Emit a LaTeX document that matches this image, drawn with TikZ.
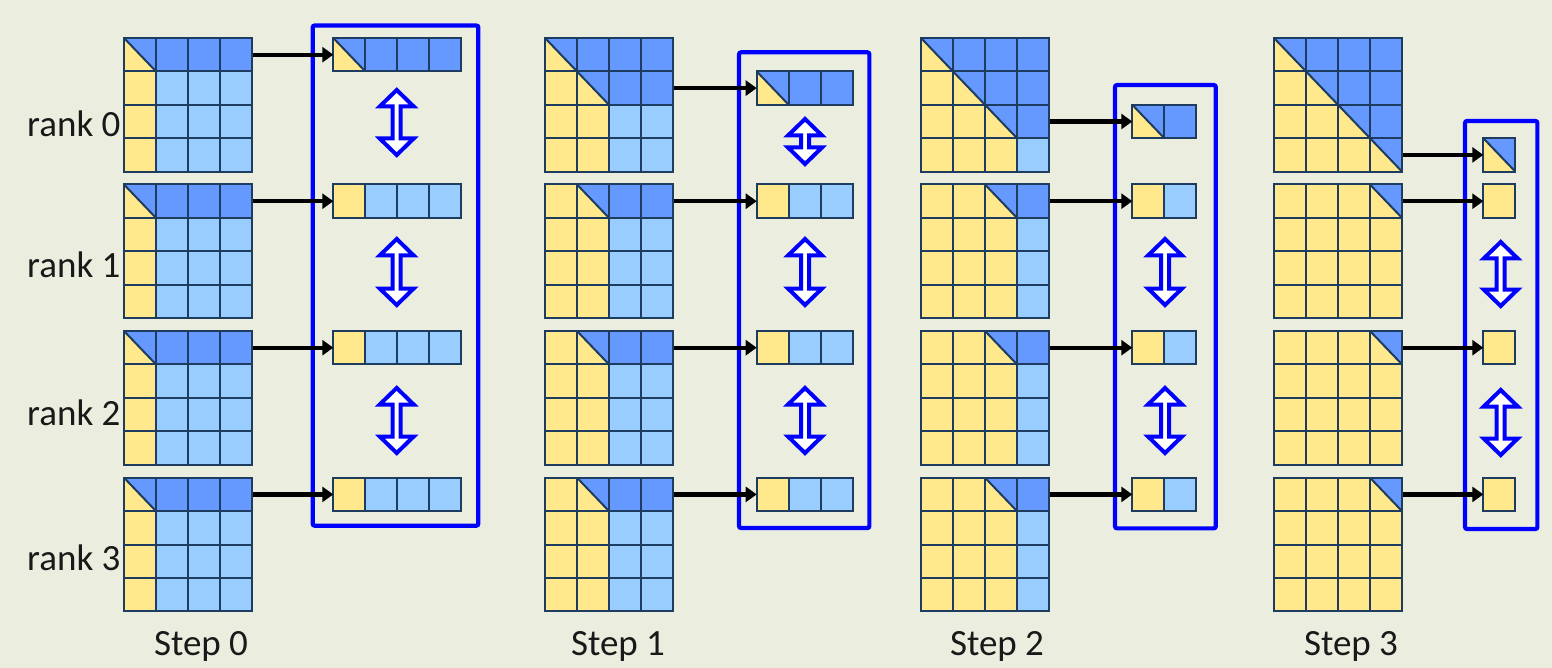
\documentclass[tikz,border=0pt]{standalone}
\usepackage{fontspec}
\setmainfont{Carlito}
\usetikzlibrary{arrows.meta}
\definecolor{bg}{RGB}{235,238,223}
\definecolor{cy}{RGB}{255,233,140}
\definecolor{cd}{RGB}{102,153,255}
\definecolor{cl}{RGB}{153,204,255}
\definecolor{gridc}{RGB}{30,60,95}
\definecolor{boxb}{RGB}{0,0,255}
\newcommand\cw{32}
\newcommand\ch{33.4}
% cell: x, y (top-left), type 0=yellow 1=dark 2=light 3=split
\newcommand\mycell[3]{%
  \ifcase#3\relax
    \fill[cy] ({#1},{#2}) rectangle ++(\cw,\ch);
  \or
    \fill[cd] ({#1},{#2}) rectangle ++(\cw,\ch);
  \or
    \fill[cl] ({#1},{#2}) rectangle ++(\cw,\ch);
  \or
    \fill[cy] ({#1},{#2}) -- ++(0,\ch) -- ++(\cw,0) -- cycle;
    \fill[cd] ({#1},{#2}) -- ++(\cw,0) -- ++(0,\ch) -- cycle;
    \draw[gridline] ({#1},{#2}) -- ++(\cw,\ch);
  \fi
  \draw[gridline] ({#1},{#2}) rectangle ++(\cw,\ch);}
% type of cell: k r i j -> \ct
\newcommand\celltype[4]{%
  \ifnum#2=0\relax
    \ifnum#3<#4\relax\def\mn{#3}\else\def\mn{#4}\fi
    \ifnum\mn>#1\relax\def\ct{2}\else
      \ifnum#3<#4\relax\def\ct{1}\else
        \ifnum#3=#4\relax\def\ct{3}\else\def\ct{0}\fi
      \fi
    \fi
  \else
    \ifnum#4<#1\relax\def\ct{0}\else
      \ifnum#4=#1\relax
        \ifnum#3=0\relax\def\ct{3}\else\def\ct{0}\fi
      \else
        \ifnum#3=0\relax\def\ct{1}\else\def\ct{2}\fi
      \fi
    \fi
  \fi}
% double arrow: x, ytop, ybottom
\newcommand\dblarrow[3]{%
  \draw[dbl] ({#1},{#2+2}) -- ({#1+17},{#2+18.5}) -- ({#1+4},{#2+18.5})
    -- ({#1+4},{#3-18.5}) -- ({#1+17},{#3-18.5}) -- ({#1},{#3-2})
    -- ({#1-17},{#3-18.5}) -- ({#1-4},{#3-18.5}) -- ({#1-4},{#2+18.5})
    -- ({#1-17},{#2+18.5}) -- cycle;}
\begin{document}
\begin{tikzpicture}[x=1pt,y=-1pt,
  gridline/.style={draw=gridc,line width=2pt},
  bbox/.style={draw=boxb,line width=4.2pt,rounded corners=2pt,inner sep=0pt,outer sep=0pt},
  stripn/.style={inner sep=0pt,outer sep=0pt,minimum height=33.4pt},
  conn/.style={line width=4.2pt,black,-{Triangle[length=11pt,width=15pt]}},
  dbl/.style={draw=boxb,fill=white,line width=4pt,line join=miter},
  lbl/.style={font=\fontsize{37}{40}\selectfont,inner sep=0pt,text=black!90}]
\fill[bg] (0,0) rectangle (1552,668);
\useasboundingbox (0,0) rectangle (1552,668);
% blue boxes
\node[bbox,minimum width=165.6pt,minimum height=500.2pt] (b0) at (395.5,275.6) {};
\node[bbox,minimum width=130.3pt,minimum height=475.7pt] (b1) at (804.2,290.2) {};
\node[bbox,minimum width=100.7pt,minimum height=443.3pt] (b2) at (1165.4,306.7) {};
\node[bbox,minimum width=72.3pt,minimum height=408pt] (b3) at (1501.2,325) {};
% matrices, strips and arrows
\foreach \k/\X/\S in {0/124/333.3,1/545/756.7,2/921/1132.3,3/1274/1483.3}{
  \foreach \r/\Y in {0/38,1/184.5,2/331,3/477.7}{
    \foreach \i in {0,...,3}{
      \foreach \j in {0,...,3}{
        \celltype{\k}{\r}{\i}{\j}
        \mycell{\X+32*\j}{\Y+33.4*\i}{\ct}
      }
    }
    \ifnum\r=0\relax\pgfmathsetmacro\sy{\Y+33.4*\k}\else\pgfmathsetmacro\sy{\Y}\fi
    \pgfmathsetmacro\sw{32*(4-\k)}
    \foreach \j in {\k,...,3}{
      \ifnum\j=\k\relax
        \ifnum\r=0\relax\def\ct{3}\else\def\ct{0}\fi
      \else
        \ifnum\r=0\relax\def\ct{1}\else\def\ct{2}\fi
      \fi
      \mycell{\S+32*(\j-\k)}{\sy}{\ct}
    }
    \node[stripn,minimum width=\sw pt] (s\k\r) at ({\S+\sw/2},{\sy+16.7}) {};
    \coordinate (a\k\r) at ({\X+129},{\sy+16.7});
    \draw[conn] (a\k\r) -- (s\k\r.west);
  }
}
% double arrows
\dblarrow{396.7}{88}{157}
\dblarrow{396.7}{237}{307}
\dblarrow{396.7}{386}{455}
\dblarrow{805}{117}{166}
\dblarrow{805}{237}{307}
\dblarrow{805}{386}{455}
\dblarrow{1165}{237}{307}
\dblarrow{1165}{386}{455}
\dblarrow{1500.7}{240}{308}
\dblarrow{1500.7}{388}{457}
% labels
\node[lbl,anchor=base west] (r0) at (27,137) {rank 0};
\node[lbl,anchor=base west] (r1) at (27,278) {rank 1};
\node[lbl,anchor=base west] (r2) at (27,425) {rank 2};
\node[lbl,anchor=base west] (r3) at (27,570) {rank 3};
\node[lbl,anchor=base] (t0) at (201,655) {Step 0};
\node[lbl,anchor=base] (t1) at (618,655) {Step 1};
\node[lbl,anchor=base] (t2) at (997,655) {Step 2};
\node[lbl,anchor=base] (t3) at (1351,655) {Step 3};
\end{tikzpicture}
\end{document}
